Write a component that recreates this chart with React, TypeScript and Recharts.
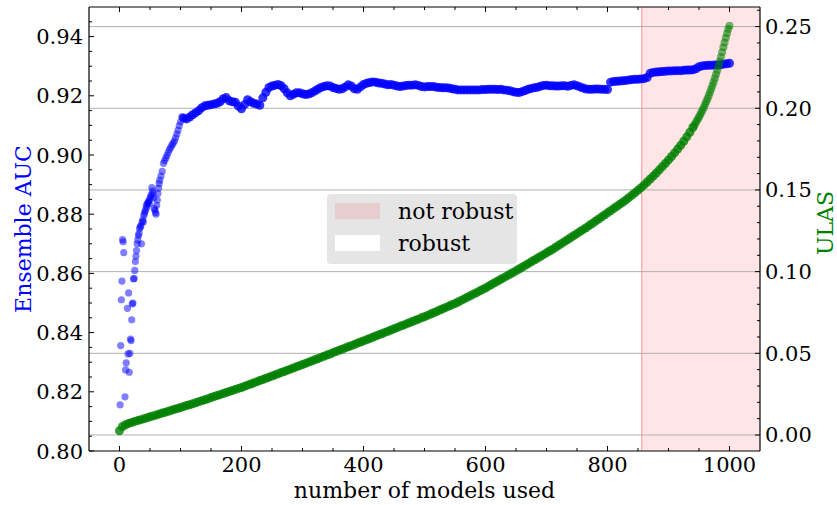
import React from "react";
import {
  ScatterChart,
  Scatter,
  XAxis,
  YAxis,
  ReferenceArea,
  ReferenceLine,
} from "recharts";

const FONT = "DejaVu Serif";

// Ensemble AUC for the first ~100 models, read one model at a time (noisy start)
const aucEarlyModels = [
  1, 2, 3, 4, 5, 6, 7, 9, 10, 11, 13, 14, 15, 16, 17, 18, 19, 20, 21, 22,
  23, 24, 25, 26, 27, 28, 29, 30, 31, 32, 33, 34, 35, 36, 37, 38, 39, 40, 41, 42,
  43, 44, 45, 46, 47, 48, 49, 50, 51, 52, 53, 54, 55, 56, 57, 58, 59, 60, 61, 62,
  63, 64, 65, 66, 68, 70, 72, 74, 76, 78, 80, 82, 84, 86, 88, 90, 92, 94, 96, 98,
  100, 102,
];
const aucEarlyValues = [
  0.8156, 0.8356, 0.8511, 0.8574, 0.8714, 0.8707, 0.867, 0.8183, 0.8274, 0.8298,
  0.8482, 0.8328, 0.8534, 0.8266, 0.833, 0.8378, 0.8373, 0.8443, 0.8497, 0.85,
  0.8581, 0.8583, 0.861, 0.864, 0.8658, 0.8677, 0.87, 0.8713, 0.8728, 0.8735,
  0.8751, 0.8757, 0.8761, 0.87, 0.8773, 0.8781, 0.8774, 0.8796, 0.8803, 0.881,
  0.8817, 0.8831, 0.8825, 0.8837, 0.884, 0.8845, 0.8835, 0.8853, 0.8859, 0.8865,
  0.889, 0.8878, 0.887, 0.8854, 0.882, 0.8814, 0.8805, 0.88, 0.883, 0.8848,
  0.887, 0.8888, 0.8904, 0.8915, 0.8929, 0.8945, 0.8972, 0.8981, 0.899, 0.8999,
  0.9009, 0.9019, 0.9026, 0.9034, 0.904, 0.9047, 0.9058, 0.9071, 0.9084, 0.9099,
  0.9112, 0.9129,
];

// Ensemble AUC from model 105 on, one reading every 5 models
const aucStart = 105;
const aucStep = 5;
const aucValues = [
  0.9125, 0.9122, 0.9128, 0.9136, 0.9143, 0.915, 0.916, 0.9166, 0.9168, 0.917,
  0.9172, 0.9175, 0.918, 0.919, 0.9194, 0.9183, 0.918, 0.9178, 0.9165, 0.9156,
  0.917, 0.9187, 0.918, 0.9175, 0.9172, 0.9168, 0.9193, 0.9212, 0.9228, 0.9233,
  0.9236, 0.9238, 0.9234, 0.9224, 0.921, 0.92, 0.9205, 0.921, 0.921, 0.9207,
  0.9204, 0.9206, 0.921, 0.9216, 0.9222, 0.9228, 0.9231, 0.9234, 0.9233, 0.9228,
  0.9225, 0.9222, 0.9224, 0.923, 0.9237, 0.9233, 0.9224, 0.9222, 0.923, 0.9238,
  0.9242, 0.9245, 0.9247, 0.9246, 0.9243, 0.9242, 0.924, 0.9237, 0.9238, 0.9236,
  0.9233, 0.9231, 0.9233, 0.9235, 0.9236, 0.9236, 0.9237, 0.9235, 0.9231, 0.923,
  0.9231, 0.9231, 0.9231, 0.9229, 0.9228, 0.9227, 0.9227, 0.9226, 0.9224, 0.9222,
  0.922, 0.922, 0.922, 0.922, 0.922, 0.922, 0.922, 0.922, 0.9221, 0.9221,
  0.9222, 0.9222, 0.9222, 0.9221, 0.9222, 0.922, 0.9219, 0.9217, 0.9214, 0.9212,
  0.9211, 0.9214, 0.9218, 0.9222, 0.9225, 0.9227, 0.9229, 0.9232, 0.9235, 0.9236,
  0.9234, 0.9234, 0.9233, 0.9233, 0.9234, 0.9234, 0.9232, 0.9235, 0.9237, 0.9234,
  0.923, 0.9226, 0.9223, 0.9222, 0.9222, 0.9223, 0.9223, 0.9222, 0.9222, 0.9221,
  0.9246, 0.9248, 0.9249, 0.925, 0.9251, 0.9252, 0.9253, 0.9255, 0.9256, 0.9256,
  0.9257, 0.9258, 0.9262, 0.9276, 0.9279, 0.928, 0.9281, 0.9282, 0.9283, 0.9284,
  0.9284, 0.9285, 0.9285, 0.9285, 0.9286, 0.9287, 0.9287, 0.9288, 0.9291, 0.9298,
  0.9301, 0.9302, 0.9303, 0.9303, 0.9304, 0.9304, 0.9305, 0.9307, 0.9308, 0.931,
];

// ULAS, one reading every 5 models from 0 to 940
const ulasStep = 5;
const ulasValues = [
  0.0026, 0.0052, 0.0063, 0.0071, 0.0077, 0.0083, 0.0088, 0.0094, 0.0099, 0.0105,
  0.0111, 0.0117, 0.0122, 0.0128, 0.0134, 0.0139, 0.0145, 0.0151, 0.0157, 0.0162,
  0.0168, 0.0174, 0.018, 0.0185, 0.0191, 0.0197, 0.0204, 0.021, 0.0216, 0.0222,
  0.0229, 0.0235, 0.0241, 0.0247, 0.0254, 0.026, 0.0266, 0.0272, 0.0279, 0.0285,
  0.0291, 0.0298, 0.0305, 0.0312, 0.0319, 0.0326, 0.0333, 0.034, 0.0347, 0.0354,
  0.0361, 0.0368, 0.0375, 0.0382, 0.0389, 0.0396, 0.0403, 0.041, 0.0417, 0.0424,
  0.0431, 0.0438, 0.0446, 0.0453, 0.046, 0.0467, 0.0475, 0.0482, 0.0489, 0.0496,
  0.0504, 0.0511, 0.0518, 0.0525, 0.0533, 0.054, 0.0547, 0.0554, 0.0562, 0.0569,
  0.0576, 0.0583, 0.0591, 0.0598, 0.0606, 0.0613, 0.062, 0.0628, 0.0635, 0.0643,
  0.065, 0.0657, 0.0665, 0.0672, 0.068, 0.0687, 0.0694, 0.0702, 0.0709, 0.0717,
  0.0724, 0.0732, 0.074, 0.0748, 0.0756, 0.0765, 0.0773, 0.0781, 0.0789, 0.0797,
  0.0805, 0.0814, 0.0824, 0.0833, 0.0843, 0.0852, 0.0862, 0.0871, 0.0881, 0.089,
  0.09, 0.0911, 0.0921, 0.0932, 0.0942, 0.0953, 0.0963, 0.0974, 0.0984, 0.0995,
  0.1005, 0.1016, 0.1027, 0.1038, 0.1049, 0.106, 0.1071, 0.1082, 0.1093, 0.1104,
  0.1115, 0.1126, 0.1137, 0.1149, 0.1161, 0.1173, 0.1185, 0.1197, 0.1209, 0.1221,
  0.1233, 0.1245, 0.1257, 0.1269, 0.1282, 0.1295, 0.1308, 0.1321, 0.1334, 0.1347,
  0.136, 0.1373, 0.1386, 0.1399, 0.1412, 0.1425, 0.1438, 0.1453, 0.1468, 0.1483,
  0.1498, 0.1514, 0.1531, 0.1549, 0.1567, 0.1585, 0.1604, 0.1623, 0.1643, 0.1663,
  0.1684, 0.1705, 0.1727, 0.175, 0.1773, 0.1798, 0.1825, 0.1853, 0.1882,
];

// steep tail of ULAS, every 2 models from 942 to 1000
const ulasTailStart = 942;
const ulasTailStep = 2;
const ulasTailValues = [
  0.1894, 0.1907, 0.192, 0.1933, 0.1946, 0.1961, 0.1976, 0.1991, 0.2007, 0.2024,
  0.2041, 0.2059, 0.2078, 0.2098, 0.2118, 0.2139, 0.2161, 0.2184, 0.2208, 0.2233,
  0.2259, 0.2286, 0.2314, 0.2343, 0.2373, 0.2402, 0.2431, 0.2459, 0.2485, 0.2505,
];

// models beyond this count are flagged as not robust
const notRobustFrom = 856;

const xMajorTicks = [0, 200, 400, 600, 800, 1000];
const aucMajorTicks = [0.8, 0.82, 0.84, 0.86, 0.88, 0.9, 0.92, 0.94];
const ulasMajorTicks = [0, 0.05, 0.1, 0.15, 0.2, 0.25];

// minor ticks: 50 models, 0.005 AUC, 0.01 ULAS
const xTicks = Array.from({ length: 21 }, (_, i) => i * 50);
const aucTicks = Array.from({ length: 30 }, (_, i) => +(0.8 + i * 0.005).toFixed(3));
const ulasTicks = Array.from({ length: 27 }, (_, i) => +(i * 0.01).toFixed(2));

const aucEarlyData = aucEarlyModels.map((m, i) => ({ x: m, y: aucEarlyValues[i] }));
const aucPlateauData = aucValues.map((v, i) => ({ x: aucStart + i * aucStep, y: v }));
const ulasData = ulasValues.map((v, i) => ({ x: i * ulasStep, y: v }));
const ulasTailData = ulasTailValues.map((v, i) => ({ x: ulasTailStart + i * ulasTailStep, y: v }));

const isMajor = (list: number[], v: number) => list.some((t) => Math.abs(t - v) < 1e-9);

const MAJOR = 5;
const MINOR = 3;

const BottomTick = (props: any) => {
  const { x, y, payload } = props;
  const major = isMajor(xMajorTicks, payload.value);
  return (
    <g>
      <line x1={x} x2={x} y1={y} y2={y - (major ? MAJOR : MINOR)} stroke="#000" strokeWidth={1} />
      {major && (
        <text x={x} y={y + 21} textAnchor="middle" fontSize={21} fontFamily={FONT} fill="#000">
          {payload.value}
        </text>
      )}
    </g>
  );
};

const TopTick = (props: any) => {
  const { x, y, payload } = props;
  const major = isMajor(xMajorTicks, payload.value);
  return <line x1={x} x2={x} y1={y} y2={y + (major ? MAJOR : MINOR)} stroke="#000" strokeWidth={1} />;
};

const LeftTick = (props: any) => {
  const { x, y, payload } = props;
  const major = isMajor(aucMajorTicks, payload.value);
  return (
    <g>
      <line x1={x} x2={x + (major ? MAJOR : MINOR)} y1={y} y2={y} stroke="#000" strokeWidth={1} />
      {major && (
        <text x={x - 6} y={y + 7.5} textAnchor="end" fontSize={21} fontFamily={FONT} fill="#000">
          {payload.value.toFixed(2)}
        </text>
      )}
    </g>
  );
};

const RightTick = (props: any) => {
  const { x, y, payload } = props;
  const major = isMajor(ulasMajorTicks, payload.value);
  return (
    <g>
      <line x1={x} x2={x - (major ? MAJOR : MINOR)} y1={y} y2={y} stroke="#000" strokeWidth={1} />
      {major && (
        <text x={x + 5} y={y + 7.5} textAnchor="start" fontSize={21} fontFamily={FONT} fill="#000">
          {payload.value.toFixed(2)}
        </text>
      )}
    </g>
  );
};

const AxisTitle = ({ tx, ty, vertical, color, text }: any) => (
  <text
    x={tx}
    y={ty}
    transform={vertical ? `rotate(-90 ${tx} ${ty})` : undefined}
    textAnchor="middle"
    fontSize={22}
    fontFamily={FONT}
    fill={color}
  >
    {text}
  </text>
);

// dense runs are sampled sparser than the raw data, so they get a stronger fill
const Dot = (color: string, opacity: number, r: number) => (props: any) =>
  <circle cx={props.cx} cy={props.cy} r={r} fill={color} fillOpacity={opacity} />;

const spine = { stroke: "#000", strokeWidth: 1.2 };

const App: React.FC = () => {
  return (
    <div style={{ position: "absolute", left: 0, top: 0, width: 837, height: 505, background: "#fff" }}>
      <ScatterChart width={837} height={505} margin={{ top: 0, right: 0, bottom: 0, left: 0 }}>
        <XAxis
          xAxisId="bottom"
          type="number"
          dataKey="x"
          domain={[-50, 1050]}
          allowDataOverflow
          ticks={xTicks}
          interval={0}
          height={54}
          tickSize={0}
          tickMargin={0}
          tick={<BottomTick />}
          axisLine={spine}
          label={<AxisTitle tx={424.5} ty={497.5} color="#000" text="number of models used" />}
        />
        <XAxis
          xAxisId="top"
          orientation="top"
          type="number"
          dataKey="x"
          domain={[-50, 1050]}
          allowDataOverflow
          ticks={xTicks}
          interval={0}
          height={7}
          tickSize={0}
          tickMargin={0}
          tick={<TopTick />}
          axisLine={spine}
        />
        <YAxis
          yAxisId="left"
          type="number"
          dataKey="y"
          domain={[0.8, 0.95]}
          allowDataOverflow
          ticks={aucTicks}
          interval={0}
          width={89}
          tickSize={0}
          tickMargin={0}
          tick={<LeftTick />}
          axisLine={spine}
          label={<AxisTitle tx={31} ty={229} vertical color="#0000ff" text="Ensemble AUC" />}
        />
        <YAxis
          yAxisId="right"
          orientation="right"
          type="number"
          dataKey="y"
          domain={[-0.0098, 0.262]}
          allowDataOverflow
          ticks={ulasTicks}
          interval={0}
          width={77}
          tickSize={0}
          tickMargin={0}
          tick={<RightTick />}
          axisLine={spine}
          label={<AxisTitle tx={833} ty={223} vertical color="#008000" text="ULAS" />}
        />

        <ReferenceArea
          xAxisId="bottom"
          yAxisId="left"
          x1={notRobustFrom}
          x2={1050}
          fill="#ff0000"
          fillOpacity={0.1}
          stroke="none"
        />
        <ReferenceLine
          xAxisId="bottom"
          yAxisId="left"
          x={notRobustFrom}
          stroke="#ff0000"
          strokeOpacity={0.3}
          strokeWidth={1.3}
        />

        <Scatter
          name="Ensemble AUC"
          xAxisId="bottom"
          yAxisId="left"
          data={aucEarlyData}
          shape={Dot("#0000ff", 0.5, 3.6)}
          isAnimationActive={false}
        />
        <Scatter
          name="Ensemble AUC (plateau)"
          xAxisId="bottom"
          yAxisId="left"
          data={aucPlateauData}
          shape={Dot("#0000ff", 0.8, 4.5)}
          isAnimationActive={false}
        />

        {ulasMajorTicks.map((t) => (
          <ReferenceLine
            key={`grid-${t}`}
            xAxisId="bottom"
            yAxisId="right"
            y={t}
            stroke="#b0b0b0"
            strokeWidth={1}
          />
        ))}

        <Scatter
          name="ULAS"
          xAxisId="bottom"
          yAxisId="right"
          data={ulasData}
          shape={Dot("#008000", 0.8, 4.5)}
          isAnimationActive={false}
        />
        <Scatter
          name="ULAS (tail)"
          xAxisId="bottom"
          yAxisId="right"
          data={ulasTailData}
          shape={Dot("#008000", 0.55, 4)}
          isAnimationActive={false}
        />
      </ScatterChart>

      {/* legend for the shaded span */}
      <svg
        width={837}
        height={505}
        style={{ position: "absolute", left: 0, top: 0, pointerEvents: "none" }}
      >
        <rect x={327} y={194} width={190} height={70} rx={4} fill="#e5e5e5" />
        <rect x={335} y={203} width={45} height={16} fill="#ff0000" fillOpacity={0.1} />
        <text x={398} y={219} fontSize={22} fontFamily={FONT} fill="#000">
          not robust
        </text>
        <rect x={335} y={235} width={45} height={16} fill="#ffffff" />
        <text x={398} y={251} fontSize={22} fontFamily={FONT} fill="#000">
          robust
        </text>
      </svg>
    </div>
  );
};

export default App;
